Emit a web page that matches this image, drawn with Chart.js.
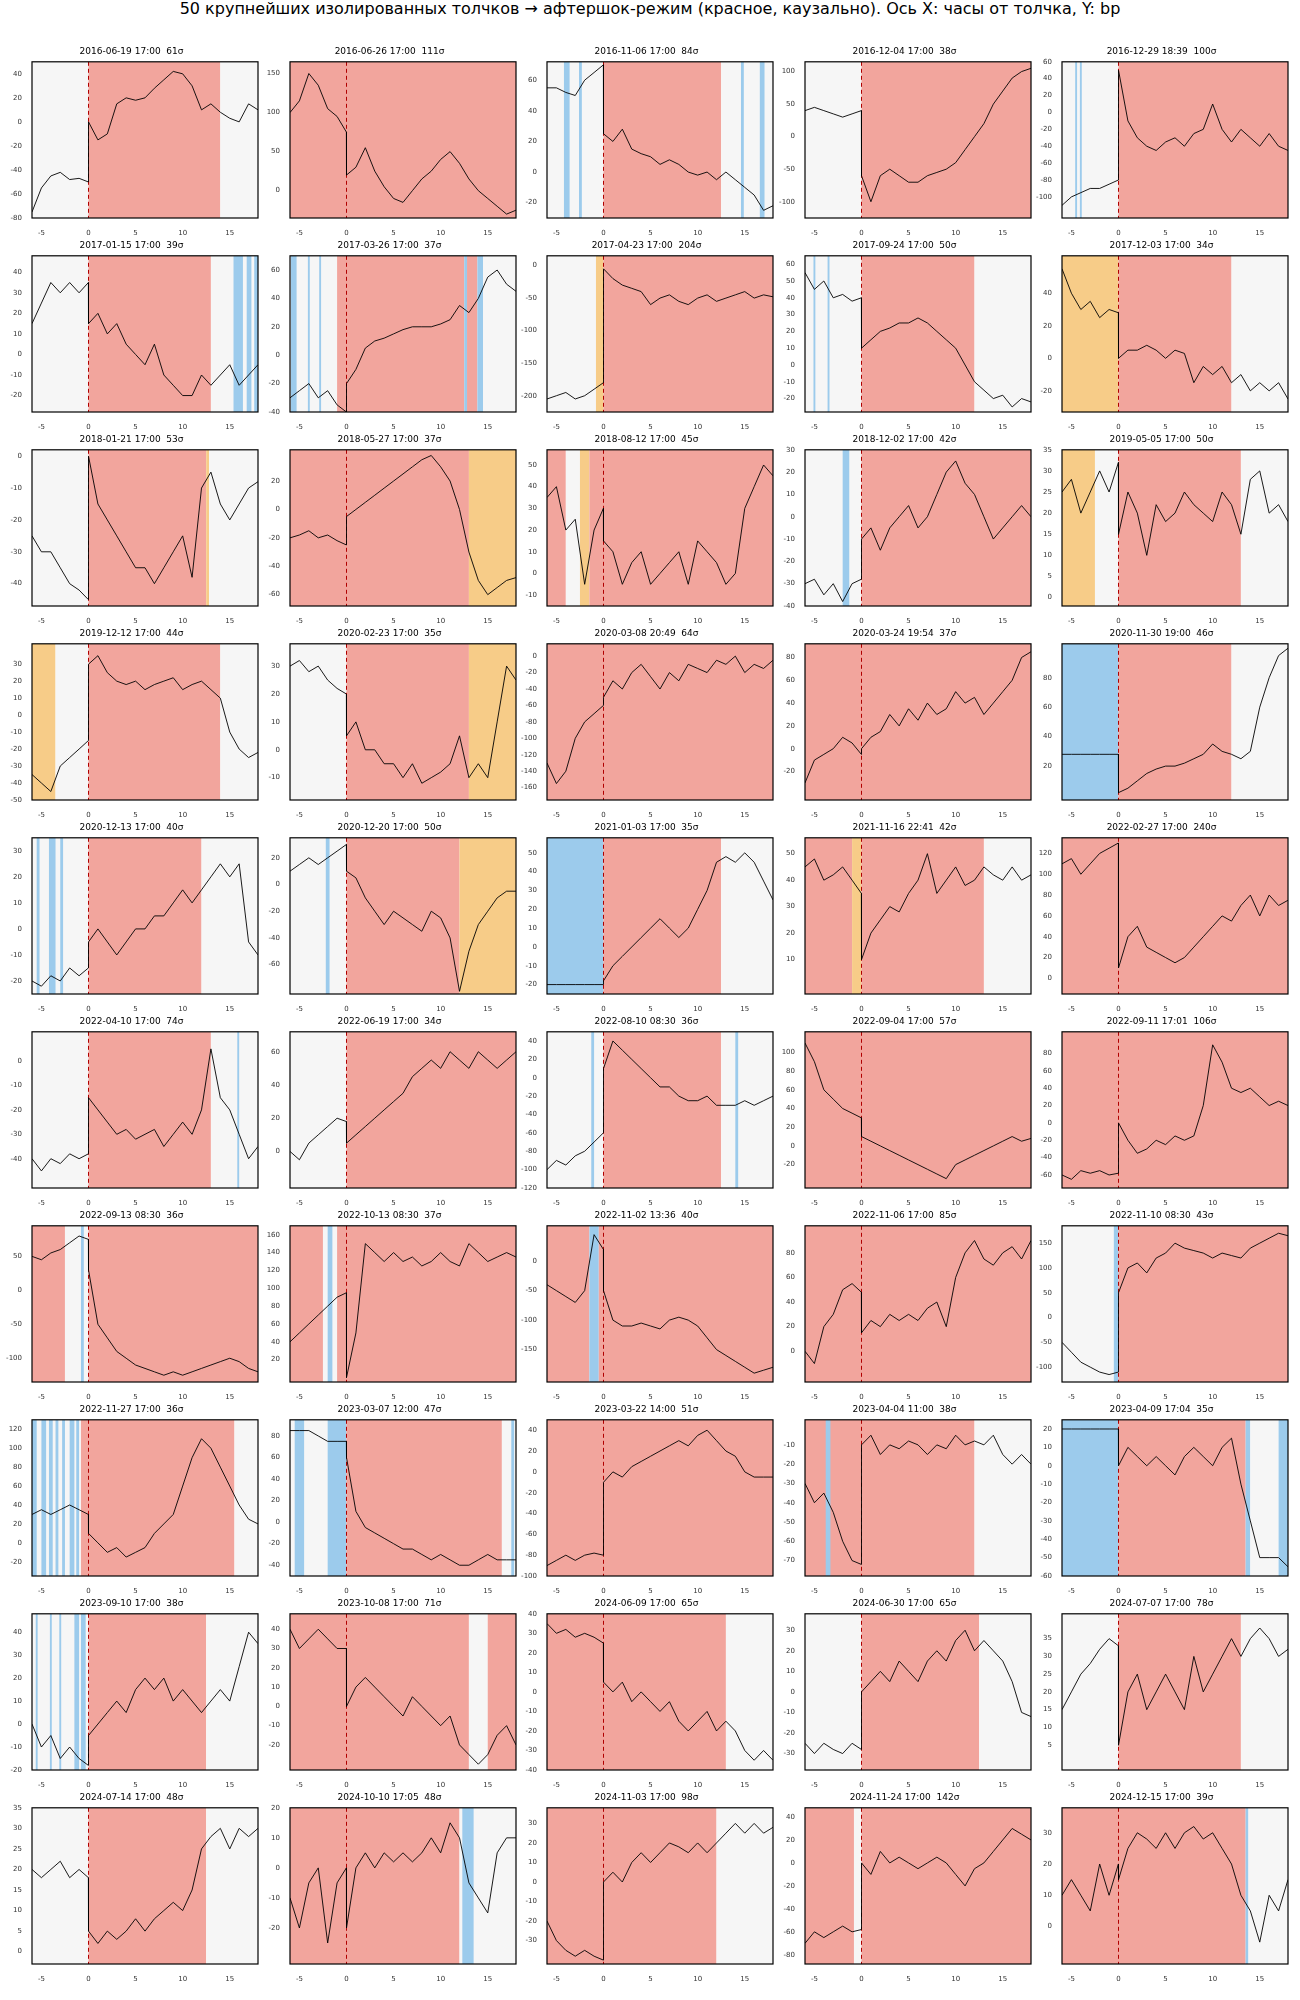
<!DOCTYPE html>
<html>
<head>
<meta charset="utf-8">
<script src="https://cdn.jsdelivr.net/npm/chart.js@4.4.0/dist/chart.umd.min.js"></script>
<style>
  body { margin: 0; background: #fff; width: 1300px; height: 2000px; position: relative; font-family: "DejaVu Sans", sans-serif; }
  #main-title { position: absolute; top: 0; left: 0; width: 1300px; text-align: center; font-size: 16px; line-height: 18px; color: #000; }
  .cell { position: absolute; width: 255px; height: 194px; }
</style>
</head>
<body>
<div id="main-title">50 крупнейших изолированных толчков → афтершок-режим (красное, каузально). Ось X: часы от толчка, Y: bp</div>
<div id="grid"></div>
<script>
// hours from shock; -0.01 / 0 gives the jump at the shock
const xGrid = [-6, -5, -4, -3, -2, -1, -0.01, 0, 1, 2, 3, 4, 5, 6, 7, 8, 9, 10, 11, 12, 13, 14, 15, 16, 17, 18];
const xTicks = [-5, 0, 5, 10, 15];

const titles = [
  '2016-06-19 17:00  61σ', '2016-06-26 17:00  111σ', '2016-11-06 17:00  84σ', '2016-12-04 17:00  38σ', '2016-12-29 18:39  100σ',
  '2017-01-15 17:00  39σ', '2017-03-26 17:00  37σ', '2017-04-23 17:00  204σ', '2017-09-24 17:00  50σ', '2017-12-03 17:00  34σ',
  '2018-01-21 17:00  53σ', '2018-05-27 17:00  37σ', '2018-08-12 17:00  45σ', '2018-12-02 17:00  42σ', '2019-05-05 17:00  50σ',
  '2019-12-12 17:00  44σ', '2020-02-23 17:00  35σ', '2020-03-08 20:49  64σ', '2020-03-24 19:54  37σ', '2020-11-30 19:00  46σ',
  '2020-12-13 17:00  40σ', '2020-12-20 17:00  50σ', '2021-01-03 17:00  35σ', '2021-11-16 22:41  42σ', '2022-02-27 17:00  240σ',
  '2022-04-10 17:00  74σ', '2022-06-19 17:00  34σ', '2022-08-10 08:30  36σ', '2022-09-04 17:00  57σ', '2022-09-11 17:01  106σ',
  '2022-09-13 08:30  36σ', '2022-10-13 08:30  37σ', '2022-11-02 13:36  40σ', '2022-11-06 17:00  85σ', '2022-11-10 08:30  43σ',
  '2022-11-27 17:00  36σ', '2023-03-07 12:00  47σ', '2023-03-22 14:00  51σ', '2023-04-04 11:00  38σ', '2023-04-09 17:04  35σ',
  '2023-09-10 17:00  38σ', '2023-10-08 17:00  71σ', '2024-06-09 17:00  65σ', '2024-06-30 17:00  65σ', '2024-07-07 17:00  78σ',
  '2024-07-14 17:00  48σ', '2024-10-10 17:05  48σ', '2024-11-03 17:00  98σ', '2024-11-24 17:00  142σ', '2024-12-15 17:00  39σ'
];

const yMin = [-80, -35, -30, -125, -125, -28, -40, -225, -28, -33, -47, -68, -15, -40, -2, -50, -18, -175, -45, -3,
  -25, -82, -25, -3, -15, -52, -22, -120, -45, -75, -135, -5, -205, -25, -130, -35, -50, -100, -78, -60,
  -20, -33, -40, -38, -2, -3, -32, -42, -88, -12];
const yMax = [50, 165, 72, 115, 60, 48, 70, 15, 65, 63, 2, 42, 57, 30, 35, 42, 38, 15, 92, 103,
  35, 35, 58, 56, 135, 12, 72, 50, 122, 105, 95, 170, 60, 102, 185, 130, 95, 50, 3, 25,
  48, 48, 40, 38, 42, 35, 20, 38, 48, 38];

// [from, to, kind]  r = aftershock, g = calm, b = blue, o = orange
const regions = [
  [[-6, 0, 'g'], [0, 14, 'r'], [14, 18, 'g']],
  [[-6, 18, 'r']],
  [[-6, 0, 'g'], [-4.2, -3.6, 'b'], [-2.6, -2.3, 'b'], [0, 12.5, 'r'], [12.5, 18, 'g'], [14.6, 14.9, 'b'], [16.6, 17.1, 'b']],
  [[-6, 0, 'g'], [0, 18, 'r']],
  [[-6, 0, 'g'], [-4.6, -4.4, 'b'], [-4.1, -3.9, 'b'], [0, 18, 'r']],
  [[-6, 0, 'g'], [0, 13, 'r'], [13, 18, 'g'], [15.4, 16.4, 'b'], [16.8, 17.3, 'b'], [17.6, 18, 'b']],
  [[-6, -1, 'g'], [-5.9, -5.3, 'b'], [-4.1, -3.9, 'b'], [-2.9, -2.7, 'b'], [-1, 12.5, 'r'], [12.5, 12.8, 'b'], [12.8, 13.9, 'r'], [13.9, 14.5, 'b'], [14.5, 18, 'g']],
  [[-6, -0.8, 'g'], [-0.8, 0, 'o'], [0, 18, 'r']],
  [[-6, 0, 'g'], [-5.1, -4.9, 'b'], [-3.6, -3.4, 'b'], [0, 12, 'r'], [12, 18, 'g']],
  [[-6, 0, 'o'], [0, 12, 'r'], [12, 18, 'g']],
  [[-6, 0, 'g'], [0, 12.5, 'r'], [12.5, 12.8, 'o'], [12.8, 18, 'g']],
  [[-6, 13, 'r'], [13, 18, 'o']],
  [[-6, -4, 'r'], [-4, -2.5, 'g'], [-2.5, -1.5, 'o'], [-1.5, 18, 'r']],
  [[-6, 0, 'g'], [-2, -1.3, 'b'], [0, 18, 'r']],
  [[-6, -2.5, 'o'], [-2.5, 0, 'g'], [0, 13, 'r'], [13, 18, 'g']],
  [[-6, -3.5, 'o'], [-3.5, 0, 'g'], [0, 14, 'r'], [14, 18, 'g']],
  [[-6, 0, 'g'], [0, 13, 'r'], [13, 18, 'o']],
  [[-6, 18, 'r']],
  [[-6, 18, 'r']],
  [[-6, 0, 'b'], [0, 12, 'r'], [12, 18, 'g']],
  [[-6, 0, 'g'], [-5.5, -5.2, 'b'], [-4.2, -3.5, 'b'], [-3, -2.7, 'b'], [0, 12, 'r'], [12, 18, 'g']],
  [[-6, 0, 'g'], [-2.2, -1.8, 'b'], [0, 12, 'r'], [12, 18, 'o']],
  [[-6, 0, 'b'], [0, 12.5, 'r'], [12.5, 18, 'g']],
  [[-6, -1, 'r'], [-1, 0, 'o'], [0, 13, 'r'], [13, 18, 'g']],
  [[-6, 18, 'r']],
  [[-6, 0, 'g'], [0, 13, 'r'], [13, 18, 'g'], [15.8, 16, 'b']],
  [[-6, 0, 'g'], [0, 18, 'r']],
  [[-6, 0, 'g'], [-1.3, -1, 'b'], [0, 12.5, 'r'], [12.5, 18, 'g'], [14, 14.3, 'b']],
  [[-6, 18, 'r']],
  [[-6, 18, 'r']],
  [[-6, -2.5, 'r'], [-2.5, 0, 'g'], [-0.8, -0.5, 'b'], [0, 18, 'r']],
  [[-6, -2.5, 'r'], [-2.5, -1, 'g'], [-2, -1.5, 'b'], [-1, 18, 'r']],
  [[-6, -1.5, 'r'], [-1.5, -0.5, 'b'], [-0.5, 18, 'r']],
  [[-6, 18, 'r']],
  [[-6, -0.5, 'g'], [-0.5, 0, 'b'], [0, 18, 'r']],
  [[-6, -0.8, 'g'], [-6, -5.5, 'b'], [-5, -4.5, 'b'], [-4.2, -3.8, 'b'], [-3.5, -3.2, 'b'], [-2.8, -2.5, 'b'], [-2, -1.5, 'b'], [-1.3, -1, 'b'], [-0.8, 15.5, 'r'], [15.5, 18, 'g']],
  [[-6, 0, 'g'], [-5.5, -4.5, 'b'], [-2, 0, 'b'], [0, 16.5, 'r'], [16.5, 18, 'g'], [17.5, 17.8, 'b']],
  [[-6, 18, 'r']],
  [[-6, 12, 'r'], [-3.8, -3.3, 'b'], [12, 18, 'g']],
  [[-6, 0, 'b'], [0, 13.5, 'r'], [13.5, 14, 'b'], [14, 17, 'g'], [17, 18, 'b']],
  [[-6, 0, 'g'], [-5.6, -5.4, 'b'], [-4.1, -3.9, 'b'], [-3.1, -2.9, 'b'], [-1.5, -1, 'b'], [-0.8, -0.3, 'b'], [0, 12.5, 'r'], [12.5, 18, 'g']],
  [[-6, 13, 'r'], [13, 15, 'g'], [15, 18, 'r']],
  [[-6, 13, 'r'], [13, 18, 'g']],
  [[-6, 0, 'g'], [0, 12.5, 'r'], [12.5, 18, 'g']],
  [[-6, 0, 'g'], [0, 13, 'r'], [13, 18, 'g']],
  [[-6, 0, 'g'], [0, 12.5, 'r'], [12.5, 18, 'g']],
  [[-6, 12, 'r'], [12, 18, 'g'], [12.3, 13.5, 'b']],
  [[-6, 12, 'r'], [12, 18, 'g']],
  [[-6, -0.8, 'r'], [-0.8, 0, 'g'], [0, 18, 'r']],
  [[-6, 13.5, 'r'], [13.5, 13.8, 'b'], [13.8, 18, 'g']]
];

const seriesY = [
  [-75, -55, -45, -42, -48, -47, -50, 0, -15, -10, 15, 20, 18, 20, 28, 35, 42, 40, 30, 10, 15, 8, 3, 0, 15, 10],
  [100, 115, 150, 135, 105, 95, 75, 20, 30, 55, 25, 5, -10, -15, 0, 15, 25, 40, 50, 35, 15, 0, -10, -20, -30, -25],
  [55, 55, 52, 50, 60, 65, 70, 25, 20, 28, 15, 12, 10, 5, 8, 5, 0, -2, 0, -5, 0, -5, -10, -15, -25, -22],
  [40, 45, 40, 35, 30, 35, 40, -60, -100, -60, -50, -60, -70, -70, -60, -55, -50, -40, -20, 0, 20, 50, 70, 90, 100, 105],
  [-110, -100, -95, -90, -90, -85, -80, 50, -10, -30, -40, -45, -35, -30, -40, -25, -20, 10, -20, -35, -20, -30, -40, -25, -40, -45],
  [15, 25, 35, 30, 35, 30, 35, 15, 20, 10, 15, 5, 0, -5, 5, -10, -15, -20, -20, -10, -15, -10, -5, -15, -10, -5],
  [-30, -25, -20, -30, -25, -35, -40, -20, -10, 5, 10, 12, 15, 18, 20, 20, 20, 22, 25, 35, 30, 40, 55, 60, 50, 45],
  [-205, -200, -195, -205, -200, -190, -180, -5, -20, -30, -35, -40, -60, -50, -45, -55, -60, -50, -45, -55, -50, -45, -40, -50, -45, -48],
  [55, 45, 50, 40, 42, 38, 40, 10, 15, 20, 22, 25, 25, 28, 25, 20, 15, 10, 0, -10, -15, -20, -18, -25, -20, -22],
  [55, 40, 30, 35, 25, 30, 28, 0, 5, 5, 8, 5, 0, 5, 3, -15, -5, -10, -5, -15, -10, -20, -15, -20, -15, -25],
  [-25, -30, -30, -35, -40, -42, -45, 0, -15, -20, -25, -30, -35, -35, -40, -35, -30, -25, -38, -10, -5, -15, -20, -15, -10, -8],
  [-20, -18, -15, -20, -18, -22, -25, -5, 0, 5, 10, 15, 20, 25, 30, 35, 38, 30, 20, 0, -30, -50, -60, -55, -50, -48],
  [35, 40, 20, 25, -5, 20, 30, 15, 10, -5, 5, 10, -5, 0, 5, 10, -5, 15, 10, 5, -5, 0, 30, 40, 50, 45],
  [-30, -28, -35, -30, -38, -30, -28, -10, -5, -15, -5, 0, 5, -5, 0, 10, 20, 25, 15, 10, 0, -10, -5, 0, 5, 0],
  [25, 28, 20, 25, 30, 25, 32, 15, 25, 20, 10, 22, 18, 20, 25, 22, 20, 18, 25, 22, 15, 28, 30, 20, 22, 18],
  [-35, -40, -45, -30, -25, -20, -15, 30, 35, 25, 20, 18, 20, 15, 18, 20, 22, 15, 18, 20, 15, 10, -10, -20, -25, -22],
  [30, 32, 28, 30, 25, 22, 20, 5, 10, 0, 0, -5, -5, -10, -5, -12, -10, -8, -5, 5, -10, -5, -10, 10, 30, 25],
  [-130, -155, -140, -100, -80, -70, -60, -50, -30, -40, -20, -10, -25, -40, -20, -30, -10, -15, -20, -5, -10, 0, -20, -10, -15, -5],
  [-30, -10, -5, 0, 10, 5, -5, 0, 10, 15, 30, 20, 35, 25, 40, 30, 35, 50, 40, 45, 30, 40, 50, 60, 80, 85],
  [28, 28, 28, 28, 28, 28, 28, 2, 5, 10, 15, 18, 20, 20, 22, 25, 28, 35, 30, 28, 25, 30, 60, 80, 95, 100],
  [-20, -22, -18, -20, -15, -18, -15, -5, 0, -5, -10, -5, 0, 0, 5, 5, 10, 15, 10, 15, 20, 25, 20, 25, -5, -10],
  [10, 15, 20, 15, 20, 25, 30, 10, 5, -10, -20, -30, -20, -25, -30, -35, -20, -25, -40, -80, -50, -30, -20, -10, -5, -5],
  [-20, -20, -20, -20, -20, -20, -20, -18, -10, -5, 0, 5, 10, 15, 10, 5, 10, 20, 30, 45, 48, 45, 50, 45, 35, 25],
  [45, 48, 40, 42, 45, 40, 35, 10, 20, 25, 30, 28, 35, 40, 50, 35, 40, 45, 38, 40, 45, 42, 40, 45, 40, 42],
  [110, 115, 100, 110, 120, 125, 130, 10, 40, 50, 30, 25, 20, 15, 20, 30, 40, 50, 60, 55, 70, 80, 60, 80, 70, 75],
  [-40, -45, -40, -42, -38, -40, -38, -15, -20, -25, -30, -28, -32, -30, -28, -35, -30, -25, -30, -20, 5, -15, -20, -30, -40, -35],
  [0, -5, 5, 10, 15, 20, 18, 5, 10, 15, 20, 25, 30, 35, 45, 50, 55, 50, 60, 55, 50, 60, 55, 50, 55, 60],
  [-100, -90, -95, -85, -80, -70, -60, 10, 40, 30, 20, 10, 0, -10, -10, -20, -25, -25, -20, -30, -30, -30, -25, -30, -25, -20],
  [110, 90, 60, 50, 40, 35, 30, 10, 5, 0, -5, -10, -15, -20, -25, -30, -35, -20, -15, -10, -5, 0, 5, 10, 5, 8],
  [-60, -65, -55, -58, -55, -60, -58, 0, -20, -35, -30, -20, -25, -15, -20, -15, 20, 90, 70, 40, 35, 40, 30, 20, 25, 20],
  [50, 45, 55, 60, 70, 80, 75, 30, -50, -70, -90, -100, -110, -115, -120, -125, -120, -125, -120, -115, -110, -105, -100, -105, -115, -120],
  [40, 50, 60, 70, 80, 90, 95, 0, 50, 150, 140, 130, 140, 130, 135, 125, 130, 140, 130, 125, 150, 140, 130, 135, 140, 135],
  [-40, -50, -60, -70, -50, 45, 20, -50, -100, -110, -110, -105, -110, -115, -100, -95, -100, -110, -130, -150, -160, -170, -180, -190, -185, -180],
  [0, -10, 20, 30, 50, 55, 48, 15, 25, 20, 30, 25, 30, 25, 35, 40, 20, 60, 80, 90, 75, 70, 80, 85, 75, 90],
  [-50, -70, -90, -100, -110, -115, -110, 50, 100, 110, 90, 120, 130, 150, 140, 135, 130, 120, 130, 125, 120, 140, 150, 160, 170, 165],
  [30, 35, 30, 35, 40, 35, 30, 10, 0, -10, -5, -15, -10, -5, 10, 20, 30, 60, 90, 110, 100, 80, 60, 40, 25, 20],
  [85, 85, 85, 80, 75, 75, 75, 60, 10, -5, -10, -15, -20, -25, -25, -30, -35, -30, -35, -40, -40, -35, -30, -35, -35, -35],
  [-90, -85, -80, -85, -80, -78, -80, -10, 0, -5, 5, 10, 15, 20, 25, 30, 25, 35, 40, 30, 20, 15, 0, -5, -5, -5],
  [-30, -40, -35, -45, -60, -70, -72, -10, -5, -15, -10, -12, -8, -10, -15, -10, -12, -5, -10, -8, -10, -5, -15, -20, -15, -20],
  [20, 20, 20, 20, 20, 20, 20, 0, 10, 5, 0, 5, 0, -5, 5, 10, 5, 0, 10, 15, -10, -30, -50, -50, -50, -55],
  [0, -10, -5, -15, -10, -15, -18, -5, 0, 5, 10, 5, 15, 20, 15, 20, 10, 15, 10, 5, 10, 15, 10, 25, 40, 35],
  [40, 30, 35, 40, 35, 30, 30, 0, 10, 15, 10, 5, 0, -5, 5, 0, -5, -10, -5, -20, -25, -30, -25, -15, -10, -20],
  [35, 30, 32, 28, 30, 28, 25, 5, 0, 5, -5, 0, -5, -10, -5, -15, -20, -15, -10, -20, -15, -20, -30, -35, -30, -35],
  [-25, -30, -25, -28, -30, -25, -28, 0, 5, 10, 5, 15, 10, 5, 15, 20, 15, 25, 30, 20, 25, 20, 15, 5, -10, -12],
  [15, 20, 25, 28, 32, 35, 33, 5, 20, 25, 15, 20, 25, 20, 15, 30, 20, 25, 30, 35, 30, 35, 38, 35, 30, 32],
  [20, 18, 20, 22, 18, 20, 18, 5, 2, 5, 3, 5, 8, 5, 8, 10, 12, 10, 15, 25, 28, 30, 25, 30, 28, 30],
  [-10, -20, -5, 0, -25, -5, 0, -20, 0, 5, 0, 5, 2, 5, 2, 5, 10, 5, 15, 10, -5, -10, -15, 5, 10, 10],
  [-20, -30, -35, -38, -35, -38, -40, 0, 5, 0, 10, 15, 10, 15, 20, 18, 15, 20, 15, 20, 25, 30, 25, 30, 25, 28],
  [-70, -60, -65, -60, -55, -60, -58, 0, -10, 10, 0, 5, 0, -5, 0, 5, 0, -10, -20, -5, 0, 10, 20, 30, 25, 20],
  [10, 15, 10, 5, 20, 10, 20, 15, 25, 30, 28, 25, 30, 25, 30, 32, 28, 30, 25, 20, 10, 5, -5, 10, 5, 15]
];

const regionColors = { r: '#f2a59d', g: '#f6f6f6', b: '#9ccbec', o: '#f7cc88' };

const panelDecor = {
  id: 'panelDecor',
  beforeDatasetsDraw(chart, args, opts) {
    const { ctx, chartArea: a, scales: { x } } = chart;
    ctx.save();
    ctx.beginPath();
    ctx.rect(a.left, a.top, a.right - a.left, a.bottom - a.top);
    ctx.clip();
    opts.regions.forEach(([x0, x1, k]) => {
      const p0 = x.getPixelForValue(x0), p1 = x.getPixelForValue(x1);
      ctx.fillStyle = regionColors[k];
      ctx.fillRect(p0, a.top, p1 - p0, a.bottom - a.top);
    });
    const z = x.getPixelForValue(0);
    ctx.strokeStyle = '#b00000';
    ctx.lineWidth = 1;
    ctx.setLineDash([4, 3]);
    ctx.beginPath();
    ctx.moveTo(z, a.top);
    ctx.lineTo(z, a.bottom);
    ctx.stroke();
    ctx.restore();
  },
  afterDraw(chart) {
    const { ctx, chartArea: a } = chart;
    ctx.save();
    ctx.strokeStyle = '#000';
    ctx.lineWidth = 1.2;
    ctx.strokeRect(a.left, a.top, a.right - a.left, a.bottom - a.top);
    ctx.restore();
  }
};

const tickFont = { family: 'DejaVu Sans', size: 7 };

const grid = document.getElementById('grid');
titles.forEach((title, i) => {
  const col = i % 5, row = Math.floor(i / 5);
  const cell = document.createElement('div');
  cell.className = 'cell';
  cell.style.left = (5 + col * 257.5) + 'px';
  cell.style.top = (42 + row * 194) + 'px';
  const canvas = document.createElement('canvas');
  cell.appendChild(canvas);
  grid.appendChild(cell);

  const pts = seriesY[i].map((y, j) => ({ x: xGrid[j], y }));

  new Chart(canvas, {
    type: 'line',
    data: { datasets: [{ data: pts, borderColor: '#000', borderWidth: 0.9, pointRadius: 0, tension: 0, fill: false }] },
    options: {
      responsive: true,
      maintainAspectRatio: false,
      animation: false,
      events: [],
      layout: { padding: { right: 2, bottom: 0 } },
      plugins: {
        legend: { display: false },
        tooltip: { enabled: false },
        title: { display: true, text: title, color: '#000', font: { family: 'DejaVu Sans', size: 9, weight: 'normal' }, padding: { top: 4, bottom: 5 } },
        panelDecor: { regions: regions[i] }
      },
      scales: {
        x: {
          type: 'linear', min: -6, max: 18,
          grid: { display: false }, border: { display: false },
          ticks: { font: tickFont, color: '#333', maxRotation: 0, padding: 3, autoSkip: false },
          afterBuildTicks: axis => { axis.ticks = xTicks.map(v => ({ value: v })); },
          afterFit: axis => { axis.height = 18; }
        },
        y: {
          min: yMin[i], max: yMax[i],
          grid: { display: false }, border: { display: false },
          ticks: { font: tickFont, color: '#333', padding: 2, maxTicksLimit: 11 },
          afterBuildTicks: axis => {
            const t = axis.ticks;
            if (t.length > 3) {
              const step = t[2].value - t[1].value;
              axis.ticks = t.filter(k => Math.abs(k.value / step - Math.round(k.value / step)) < 1e-6);
            }
          },
          afterFit: axis => { axis.width = 27; }
        }
      }
    },
    plugins: [panelDecor]
  });
});
</script>
</body>
</html>
